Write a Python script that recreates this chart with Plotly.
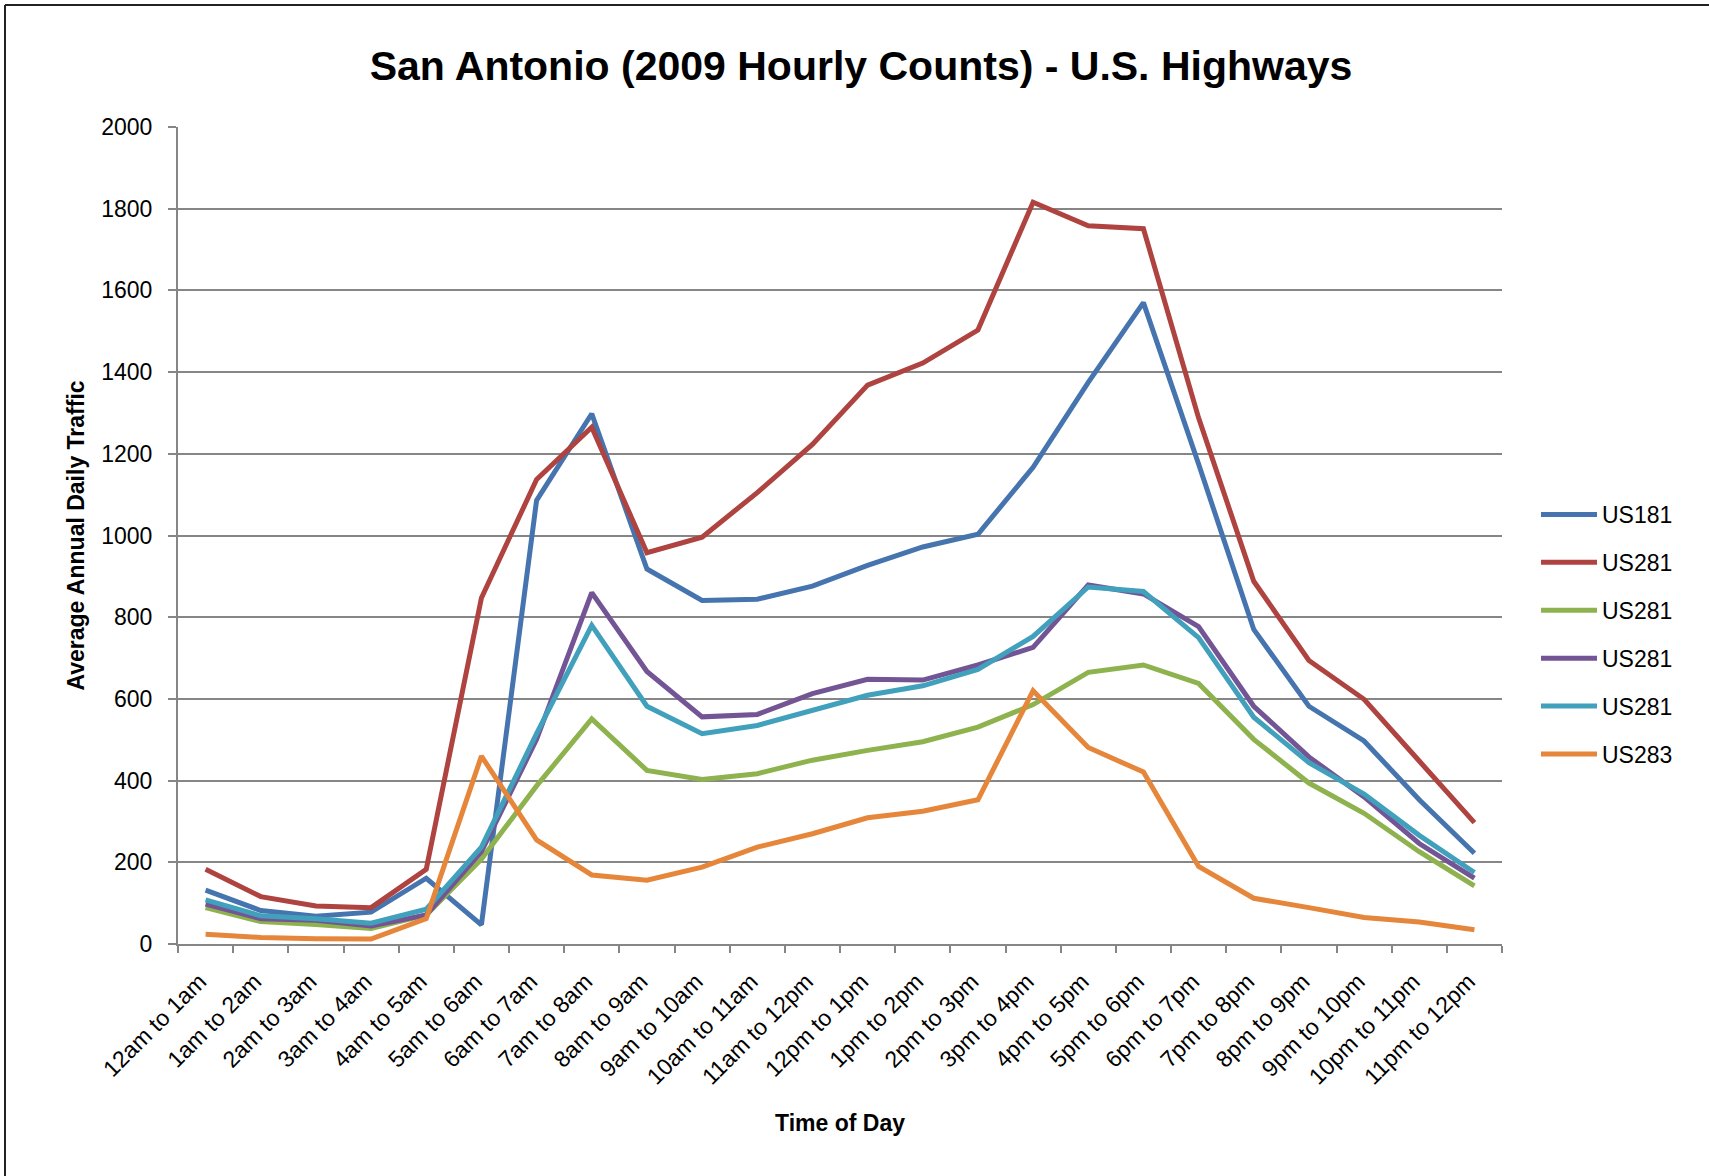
import plotly.graph_objects as go

# ---------------- data ----------------
hours = ["12am to 1am", "1am to 2am", "2am to 3am", "3am to 4am", "4am to 5am",
         "5am to 6am", "6am to 7am", "7am to 8am", "8am to 9am", "9am to 10am",
         "10am to 11am", "11am to 12pm", "12pm to 1pm", "1pm to 2pm", "2pm to 3pm",
         "3pm to 4pm", "4pm to 5pm", "5pm to 6pm", "6pm to 7pm", "7pm to 8pm",
         "8pm to 9pm", "9pm to 10pm", "10pm to 11pm", "11pm to 12pm"]

series_names = ["US181", "US281", "US281", "US281", "US281", "US283"]

us181 = [132, 82, 68, 78, 161, 47, 1086, 1298, 918, 841, 844, 876,
         927, 972, 1003, 1167, 1375, 1570, 1175, 770, 582, 497, 353, 222]
us281_a = [183, 116, 93, 89, 183, 847, 1137, 1265, 958, 996, 1105, 1223,
           1368, 1422, 1503, 1816, 1758, 1751, 1288, 888, 694, 599, 448, 297]
us281_b = [89, 55, 48, 38, 71, 208, 387, 551, 425, 403, 417, 450,
           474, 495, 531, 586, 665, 683, 638, 501, 394, 320, 226, 142]
us281_c = [98, 62, 58, 44, 71, 226, 501, 860, 667, 556, 562, 613,
           648, 646, 683, 726, 879, 857, 777, 582, 458, 360, 246, 161]
us281_d = [108, 69, 62, 51, 85, 237, 515, 780, 582, 515, 535, 572,
           609, 632, 672, 753, 874, 863, 750, 555, 444, 367, 266, 175]
us283 = [24, 16, 13, 12, 62, 460, 255, 169, 156, 188, 237, 270,
         309, 325, 353, 620, 481, 421, 190, 112, 89, 65, 54, 35]

series_values = [us181, us281_a, us281_b, us281_c, us281_d, us283]
colors = ["#4674AE", "#AE4340", "#8EB34E", "#735596", "#41A0BC", "#E5863A"]

# ---------------- layout geometry (pixels) ----------------
W, H = 1709, 1176
ML, MR, MT, MB = 178, 207, 127, 232
pw = W - ML - MR
ph = H - MT - MB

def px_x(x):
    return (x - ML) / pw

def px_y(y):
    return (H - MB - y) / ph

FONT = "Liberation Sans, Arial, sans-serif"
GRID = "#868686"

fig = go.Figure()
for i, (name, vals) in enumerate(zip(series_names, series_values)):
    fig.add_trace(go.Scatter(
        x=hours, y=vals, name=name, mode="lines",
        line=dict(color=colors[i], width=5),
        legendgroup=f"g{i}",
    ))

fig.update_layout(
    width=W, height=H,
    margin=dict(l=ML, r=MR, t=MT, b=MB, autoexpand=False),
    paper_bgcolor="white", plot_bgcolor="white",
    font=dict(family=FONT, size=23, color="black"),
    title=dict(
        text="<b>San Antonio (2009 Hourly Counts) - U.S. Highways</b>",
        font=dict(family=FONT, size=41, color="black"),
        x=861 / W, xref="container", xanchor="center",
        y=1 - 66 / H, yref="container", yanchor="middle",
    ),
    xaxis=dict(
        type="category",
        range=[-0.5, len(hours) - 0.5],
        tickson="boundaries",
        ticks="outside", ticklen=7, tickcolor=GRID, tickwidth=2,
        tickangle=-45,
        ticklabelshift=-6, ticklabelstandoff=13,
        tickfont=dict(family=FONT, size=23, color="black"),
        showline=True, linecolor=GRID, linewidth=2,
        showgrid=False, zeroline=False,
        title=dict(text="<b>Time of Day</b>",
                   font=dict(family=FONT, size=23, color="black"),
                   standoff=26),
    ),
    yaxis=dict(
        range=[0, 2000], dtick=200, tick0=0,
        ticks="outside", ticklen=8, tickcolor=GRID, tickwidth=2,
        ticklabelstandoff=11,
        tickfont=dict(family=FONT, size=23, color="black"),
        showline=True, linecolor=GRID, linewidth=2,
        showgrid=True, gridcolor=GRID, gridwidth=1.5,
        zeroline=False,
        title=dict(text="<b>Average Annual Daily Traffic</b>",
                   font=dict(family=FONT, size=23, color="black"),
                   standoff=10),
    ),
    legend=dict(
        x=px_x(1536), xanchor="left",
        y=px_y(493), yanchor="top",
        font=dict(family=FONT, size=23, color="black"),
        itemwidth=56,
        traceorder="grouped", tracegroupgap=15,
        bgcolor="rgba(0,0,0,0)", borderwidth=0,
    ),
    shapes=[
        dict(type="line", xref="paper", yref="paper",
             x0=px_x(5), x1=px_x(W), y0=px_y(5), y1=px_y(5),
             line=dict(color="#222222", width=2)),
        dict(type="line", xref="paper", yref="paper",
             x0=px_x(5), x1=px_x(5), y0=px_y(5), y1=px_y(H),
             line=dict(color="#222222", width=2)),
    ],
)

fig.write_html("out.html",
               config={"displayModeBar": False},
               post_script="document.body.style.margin='0px';")
